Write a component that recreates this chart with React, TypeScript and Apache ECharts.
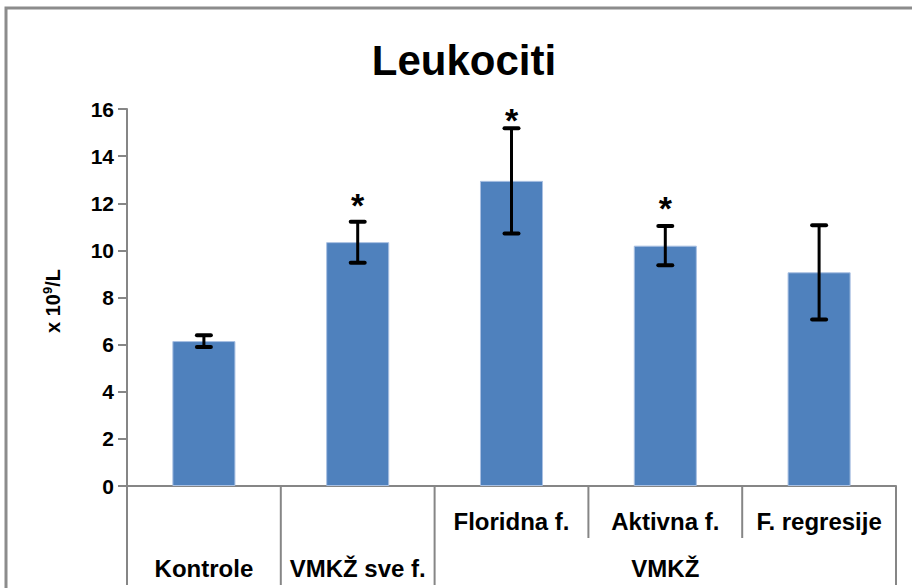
import React, { useEffect, useRef } from "react";
import * as echarts from "echarts";

// Group data
const categories = ["Kontrole", "VMKŽ sve f.", "Floridna f.", "Aktivna f.", "F. regresije"];
const subLabels = ["", "", "Floridna f.", "Aktivna f.", "F. regresije"];
const groupLabels = ["Kontrole", "VMKŽ sve f.", "", "VMKŽ", ""];
const means = [6.15, 10.35, 12.95, 10.2, 9.07];
const errors = [0.25, 0.87, 2.23, 0.83, 2.0];
// height (in axis units) of the significance asterisk, null = not significant
const starLevels = [null, 12.27, 15.87, 12.14, null];
// category boundaries under the axis: 1 = full-height divider, 0 = short divider
const boundaries = [1, 1, 1, 0, 0, 1];

const FONT = "'Liberation Sans', Arial, Helvetica, sans-serif";
const AXIS_GREY = "#868686";

export default function App() {
  const ref = useRef<HTMLDivElement>(null);

  useEffect(() => {
    if (!ref.current) return;
    const chart = echarts.init(ref.current, null, { renderer: "svg" });

    const errData = means.map((m, i) => [i, m - errors[i], m + errors[i]]);
    const starData = starLevels
      .map((v, i) => (v == null ? null : [i, v]))
      .filter((d) => d != null);
    const boundaryData = boundaries.map((full, i) => [i, full]);

    chart.setOption({
      animation: false,
      textStyle: { fontFamily: FONT },
      graphic: [
        {
          type: "rect",
          shape: { x: 6, y: 8, width: 1200, height: 1200 },
          style: { fill: "none", stroke: "#8c8c8c", lineWidth: 3 },
          silent: true,
        },
        {
          type: "text",
          x: 464,
          y: 60,
          style: {
            text: "Leukociti",
            font: `bold 42px ${FONT}`,
            fill: "#000",
            align: "center",
            verticalAlign: "middle",
          },
        },
        {
          type: "text",
          x: 53,
          y: 301,
          rotation: Math.PI / 2,
          style: {
            text: "{a|x 10}{s|9}{a|/L}",
            align: "center",
            verticalAlign: "middle",
            rich: {
              a: { font: `bold 20px ${FONT}`, fill: "#000", lineHeight: 22 },
              s: { font: `bold 13px ${FONT}`, fill: "#000", padding: [0, 0, 12, 0] },
            },
          },
        },
      ],
      grid: { left: 127, right: 16, top: 109, bottom: 102 },
      xAxis: [
        {
          type: "category",
          data: categories,
          axisLine: { lineStyle: { color: AXIS_GREY, width: 2 } },
          axisTick: { show: false },
          axisLabel: {
            interval: 0,
            margin: 23,
            color: "#000",
            fontWeight: "bold",
            fontSize: 24,
            lineHeight: 24,
            fontFamily: FONT,
            formatter: (_v: string, i: number) => subLabels[i],
          },
        },
        {
          type: "category",
          data: categories,
          position: "bottom",
          offset: 0,
          axisLine: { show: false },
          axisTick: { show: false },
          axisLabel: {
            interval: 0,
            margin: 70,
            color: "#000",
            fontWeight: "bold",
            fontSize: 24,
            lineHeight: 24,
            fontFamily: FONT,
            formatter: (_v: string, i: number) => groupLabels[i],
          },
        },
      ],
      yAxis: {
        type: "value",
        min: 0,
        max: 16,
        interval: 2,
        splitLine: { show: false },
        axisLine: { show: true, lineStyle: { color: AXIS_GREY, width: 2 } },
        axisTick: { show: true, length: 9, lineStyle: { color: AXIS_GREY, width: 2 } },
        axisLabel: {
          margin: 13,
          color: "#000",
          fontWeight: "bold",
          fontSize: 21,
          fontFamily: FONT,
        },
      },
      series: [
        {
          type: "bar",
          data: means,
          barWidth: "41%",
          itemStyle: { color: "#4F81BD", borderColor: "#a9c0e2", borderWidth: 1 },
        },
        {
          type: "custom",
          data: errData,
          clip: false,
          z: 5,
          renderItem: (_p: any, api: any) => {
            const lo = api.coord([api.value(0), api.value(1)]);
            const hi = api.coord([api.value(0), api.value(2)]);
            const half = 7;
            const s = { stroke: "#000", lineWidth: 3 };
            const cap = { stroke: "#000", lineWidth: 4, lineCap: "round" };
            return {
              type: "group",
              children: [
                { type: "line", shape: { x1: hi[0], y1: hi[1], x2: lo[0], y2: lo[1] }, style: s },
                { type: "line", shape: { x1: hi[0] - half, y1: hi[1], x2: hi[0] + half, y2: hi[1] }, style: cap },
                { type: "line", shape: { x1: lo[0] - half, y1: lo[1], x2: lo[0] + half, y2: lo[1] }, style: cap },
              ],
            };
          },
        },
        {
          type: "custom",
          data: starData,
          clip: false,
          z: 5,
          renderItem: (_p: any, api: any) => {
            const pt = api.coord([api.value(0), api.value(1)]);
            // the asterisk glyph sits high in its text box, so the box starts a bit above the level
            return {
              type: "text",
              x: pt[0],
              y: pt[1] - 9,
              style: {
                text: "*",
                font: `bold 34px ${FONT}`,
                fill: "#000",
                align: "center",
                verticalAlign: "top",
              },
            };
          },
        },
        {
          type: "custom",
          data: boundaryData,
          clip: false,
          silent: true,
          renderItem: (_p: any, api: any) => {
            const first = api.coord([0, 0]);
            const band = api.size([1, 0])[0];
            const x = first[0] - band / 2 + api.value(0) * band;
            const y0 = first[1];
            const len = api.value(1) ? 99 : 52;
            return {
              type: "line",
              shape: { x1: x, y1: y0, x2: x, y2: y0 + len },
              style: { stroke: AXIS_GREY, lineWidth: 2 },
            };
          },
        },
      ],
    });

    return () => chart.dispose();
  }, []);

  return (
    <div
      ref={ref}
      style={{ position: "absolute", left: 0, top: 0, width: 912, height: 588, background: "#fff" }}
    />
  );
}
